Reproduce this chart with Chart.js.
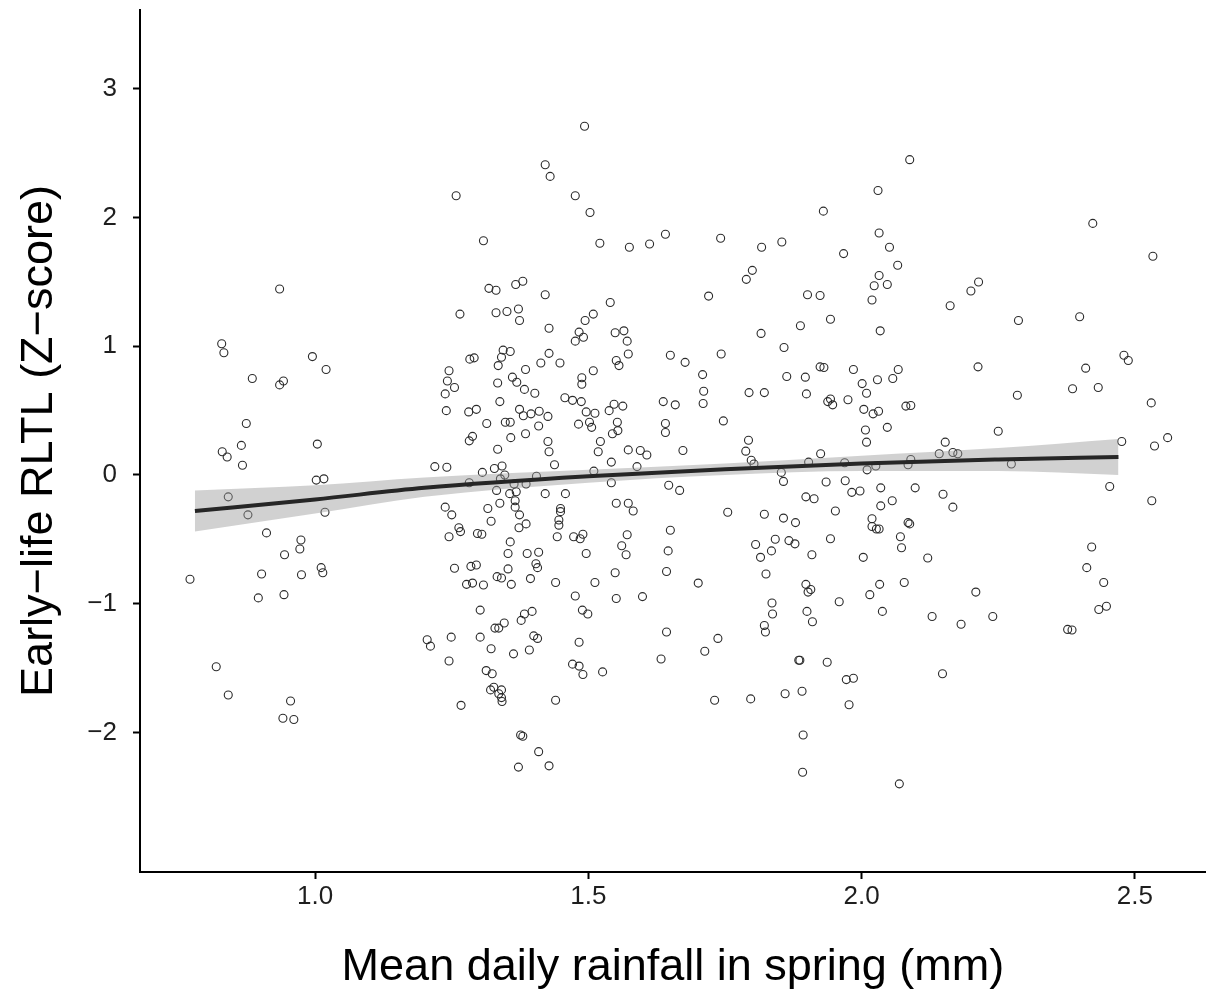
<!DOCTYPE html>
<html>
<head>
<meta charset="utf-8">
<script src="https://cdn.jsdelivr.net/npm/chart.js@4/dist/chart.umd.min.js"></script>
<style>
  body { margin: 0; background: #fff; }
  #wrap { width: 1211px; height: 995px; }
</style>
</head>
<body>
<div id="wrap"><canvas id="chart" width="1211" height="995"></canvas></div>
<script>
// observations: [mean daily rainfall (mm), early-life RLTL z-score]
var observations = [
  [0.771,-0.81],[0.819,-1.49],[0.829,1.02],[0.833,0.95],[0.830,0.18],[0.839,0.14],[0.841,-0.17],[0.841,-1.71],
  [0.865,0.23],[0.867,0.075],[0.874,0.40],[0.877,-0.31],[0.885,0.75],[0.902,-0.77],[0.896,-0.955],[0.911,-0.45],
  [0.935,1.445],[0.942,0.73],[0.935,0.70],[0.943,-0.93],[0.944,-0.62],[0.974,-0.505],[0.972,-0.575],[0.975,-0.775],
  [0.955,-1.756],[0.941,-1.89],[0.961,-1.90],[0.995,0.92],[1.020,0.82],[1.004,0.24],[1.002,-0.04],[1.016,-0.03],
  [1.018,-0.29],[1.011,-0.72],[1.014,-0.76],
  [1.493,2.71],[1.421,2.41],[1.430,2.32],[1.258,2.17],[1.476,2.17],[1.503,2.04],[1.308,1.82],[1.521,1.80],
  [1.318,1.45],[1.331,1.435],[1.367,1.48],[1.380,1.505],[1.421,1.40],[1.265,1.25],[1.331,1.26],[1.351,1.27],
  [1.372,1.29],[1.374,1.20],[1.428,1.14],[1.509,1.25],[1.494,1.20],[1.483,1.11],[1.491,1.07],[1.476,1.04],[1.540,1.34],
  [1.641,1.87],[1.612,1.795],[1.575,1.77],[1.742,1.84],[1.817,1.77],[1.854,1.81],[1.800,1.59],[1.789,1.52],
  [1.720,1.39],[1.549,1.105],[1.565,1.12],[1.571,1.04],[1.816,1.10],[1.888,1.16],
  [2.088,2.45],[2.030,2.21],[1.930,2.05],[2.032,1.88],[2.051,1.77],[1.967,1.72],[2.066,1.63],[2.032,1.55],
  [2.023,1.47],[2.047,1.48],[1.901,1.40],[1.924,1.395],[2.019,1.36],[1.943,1.21],[2.034,1.12],[2.162,1.315],
  [2.214,1.50],[2.200,1.43],[2.287,1.20],[2.399,1.23],[2.423,1.955],[2.533,1.70],
  [1.344,0.97],[1.357,0.96],[1.283,0.90],[1.291,0.91],[1.341,0.915],[1.335,0.85],[1.428,0.945],[1.413,0.87],
  [1.448,0.87],[1.385,0.82],[1.509,0.81],[1.245,0.81],[1.242,0.73],[1.255,0.68],[1.238,0.63],[1.334,0.715],
  [1.361,0.76],[1.369,0.72],[1.383,0.665],[1.402,0.635],[1.488,0.755],[1.488,0.705],[1.457,0.60],[1.471,0.58],
  [1.487,0.57],[1.338,0.57],[1.240,0.50],[1.281,0.49],[1.295,0.51],[1.374,0.51],[1.381,0.46],[1.395,0.475],
  [1.410,0.495],[1.426,0.455],[1.496,0.49],[1.512,0.48],[1.314,0.40],[1.348,0.41],[1.357,0.41],[1.409,0.38],
  [1.482,0.395],[1.502,0.41],[1.506,0.37],[1.282,0.265],[1.288,0.30],[1.358,0.29],[1.385,0.32],[1.426,0.26],
  [1.428,0.18],[1.522,0.26],[1.518,0.18],[1.334,0.20],[1.219,0.065],[1.241,0.06],[1.306,0.02],[1.328,0.05],
  [1.342,0.07],[1.347,0.00],[1.339,-0.03],[1.405,-0.01],[1.438,0.08],[1.510,0.03],[1.282,-0.06],[1.364,-0.07],
  [1.386,-0.07],[1.332,-0.12],[1.356,-0.145],[1.368,-0.13],[1.421,-0.145],[1.458,-0.145],[1.366,-0.20],[1.338,-0.22],
  [1.366,-0.25],[1.238,-0.25],[1.250,-0.31],[1.316,-0.26],[1.374,-0.31],[1.449,-0.26],[1.449,-0.285],[1.322,-0.36],
  [1.446,-0.35],[1.446,-0.39],[1.373,-0.41],[1.386,-0.38],[1.263,-0.41],[1.266,-0.44],[1.245,-0.48],[1.297,-0.455],
  [1.305,-0.46],[1.443,-0.48],[1.473,-0.48],[1.485,-0.495],[1.490,-0.46],[1.357,-0.52],[1.353,-0.61],[1.388,-0.61],
  [1.409,-0.60],[1.496,-0.61],[1.255,-0.725],[1.285,-0.71],[1.295,-0.70],[1.353,-0.73],[1.404,-0.69],[1.407,-0.72],
  [1.333,-0.79],[1.341,-0.80],[1.277,-0.85],[1.288,-0.84],[1.308,-0.855],[1.359,-0.85],[1.394,-0.805],[1.440,-0.835],
  [1.512,-0.835],[1.476,-0.94],[1.302,-1.05],[1.383,-1.08],[1.397,-1.06],[1.377,-1.13],[1.489,-1.05],[1.499,-1.08],
  [1.329,-1.19],[1.336,-1.19],[1.346,-1.15],[1.205,-1.28],[1.211,-1.33],[1.249,-1.26],[1.302,-1.26],[1.400,-1.25],
  [1.407,-1.27],[1.483,-1.30],[1.322,-1.35],[1.363,-1.39],[1.392,-1.36],[1.245,-1.445],[1.313,-1.52],[1.324,-1.545],
  [1.471,-1.47],[1.483,-1.485],[1.490,-1.55],[1.526,-1.53],[1.321,-1.67],[1.327,-1.65],[1.341,-1.67],[1.336,-1.70],
  [1.341,-1.73],[1.342,-1.76],[1.267,-1.79],[1.440,-1.75],[1.376,-2.02],[1.380,-2.03],[1.409,-2.15],[1.372,-2.27],[1.428,-2.26],
  [1.573,0.94],[1.551,0.89],[1.556,0.85],[1.650,0.93],[1.677,0.875],[1.743,0.94],[1.858,0.99],[1.863,0.765],
  [1.709,0.78],[1.711,0.65],[1.710,0.555],[1.794,0.64],[1.822,0.64],[1.637,0.57],[1.659,0.545],[1.547,0.55],
  [1.563,0.535],[1.538,0.50],[1.553,0.41],[1.554,0.345],[1.544,0.32],[1.641,0.40],[1.641,0.33],[1.747,0.42],
  [1.793,0.27],[1.788,0.185],[1.798,0.115],[1.803,0.085],[1.573,0.195],[1.595,0.19],[1.607,0.155],[1.673,0.19],
  [1.542,0.10],[1.589,0.065],[1.542,-0.06],[1.647,-0.08],[1.667,-0.12],[1.853,0.02],[1.857,-0.05],[1.551,-0.22],
  [1.573,-0.22],[1.582,-0.28],[1.755,-0.29],[1.822,-0.305],[1.857,-0.335],[1.879,-0.37],[1.571,-0.465],[1.650,-0.43],
  [1.561,-0.55],[1.569,-0.62],[1.646,-0.59],[1.806,-0.54],[1.842,-0.50],[1.867,-0.51],[1.878,-0.535],[1.835,-0.59],[1.815,-0.64],
  [1.549,-0.76],[1.643,-0.75],[1.701,-0.84],[1.825,-0.77],[1.551,-0.96],[1.599,-0.945],[1.836,-0.995],[1.837,-1.08],
  [1.822,-1.17],[1.824,-1.22],[1.643,-1.22],[1.737,-1.27],[1.713,-1.37],[1.633,-1.43],[1.885,-1.44],[1.731,-1.75],
  [1.797,-1.74],[1.860,-1.70],
  [2.480,0.93],[2.488,0.89],[1.924,0.84],[1.931,0.835],[1.985,0.82],[2.067,0.82],[2.057,0.75],[2.029,0.74],
  [2.001,0.71],[2.009,0.635],[1.897,0.76],[1.899,0.63],[1.938,0.57],[1.943,0.59],[1.947,0.545],[1.975,0.585],
  [2.004,0.51],[2.021,0.475],[2.031,0.495],[2.081,0.535],[2.090,0.54],[2.213,0.84],[2.285,0.62],[2.410,0.83],
  [2.386,0.67],[2.433,0.68],[2.530,0.56],[2.007,0.35],[2.047,0.37],[2.009,0.255],[2.250,0.34],[2.153,0.255],
  [2.142,0.165],[2.167,0.175],[2.176,0.165],[1.925,0.165],[2.476,0.26],[2.560,0.29],[2.536,0.225],[1.903,0.10],
  [1.969,0.095],[2.090,0.12],[2.085,0.08],[2.026,0.07],[2.010,0.04],[2.274,0.085],[1.935,-0.055],[1.970,-0.045],
  [1.982,-0.135],[1.997,-0.125],[2.035,-0.10],[2.098,-0.10],[2.149,-0.15],[2.454,-0.09],[1.898,-0.17],[1.913,-0.185],
  [2.056,-0.20],[2.035,-0.24],[2.167,-0.25],[2.531,-0.20],[1.952,-0.28],[2.019,-0.34],[2.019,-0.40],[2.027,-0.42],
  [2.032,-0.42],[2.085,-0.37],[2.088,-0.38],[1.943,-0.495],[2.071,-0.48],[2.073,-0.565],[1.909,-0.62],[2.003,-0.64],
  [2.121,-0.645],[2.421,-0.56],[2.412,-0.72],
  [1.898,-0.85],[1.907,-0.89],[1.902,-0.91],[2.033,-0.85],[2.078,-0.835],[2.015,-0.93],[1.959,-0.985],[2.209,-0.91],
  [2.443,-0.835],[1.900,-1.06],[1.910,-1.14],[2.038,-1.06],[2.129,-1.10],[2.182,-1.16],[2.240,-1.10],[2.434,-1.045],
  [2.448,-1.02],[2.377,-1.20],[2.385,-1.205],[1.887,-1.44],[1.937,-1.455],[1.972,-1.59],[1.985,-1.58],[2.148,-1.545],
  [1.891,-1.68],[1.977,-1.785],[1.893,-2.02],[1.892,-2.31],[2.069,-2.40]
];

// fitted curve and its confidence band
var fitX    = [0.78, 1.0, 1.2, 1.5, 1.75, 2.0, 2.25, 2.47];
var fitY    = [-0.28, -0.19, -0.10, -0.01, 0.045, 0.09, 0.12, 0.14];
var ciUpper = [-0.12, -0.08, -0.02, 0.04, 0.09, 0.15, 0.21, 0.28];
var ciLower = [-0.44, -0.30, -0.17, -0.06, 0.0, 0.03, 0.03, 0.0];

var xTicks = [1.0, 1.5, 2.0, 2.5];
var yTicks = [-2, -1, 0, 1, 2, 3];

function pairs(xs, ys) {
  return xs.map(function(x, i) { return { x: x, y: ys[i] }; });
}

var font = '"Liberation Sans", Arial, sans-serif';

new Chart(document.getElementById('chart'), {
  type: 'scatter',
  data: {
    datasets: [
      {
        type: 'line',
        data: pairs(fitX, fitY),
        borderColor: '#262626',
        borderWidth: 4,
        pointRadius: 0,
        cubicInterpolationMode: 'monotone',
        fill: false,
        order: 1
      },
      {
        type: 'line',
        data: pairs(fitX, ciUpper),
        borderWidth: 0,
        borderColor: 'rgba(0,0,0,0)',
        backgroundColor: 'rgba(153,153,153,0.45)',
        pointRadius: 0,
        cubicInterpolationMode: 'monotone',
        fill: '+1',
        order: 2
      },
      {
        type: 'line',
        data: pairs(fitX, ciLower),
        borderWidth: 0,
        borderColor: 'rgba(0,0,0,0)',
        pointRadius: 0,
        cubicInterpolationMode: 'monotone',
        fill: false,
        order: 3
      },
      {
        data: observations.map(function(p) { return { x: p[0], y: p[1] }; }),
        pointRadius: 4,
        pointBorderWidth: 1.1,
        borderColor: '#2b2b2b',
        backgroundColor: 'rgba(0,0,0,0)',
        order: 4
      }
    ]
  },
  options: {
    responsive: false,
    animation: false,
    layout: { padding: { top: 10, right: 0, left: 0, bottom: 0 } },
    plugins: { legend: { display: false }, tooltip: { enabled: false } },
    scales: {
      x: {
        type: 'linear',
        min: 0.6795,
        max: 2.630,
        afterBuildTicks: function(scale) {
          scale.ticks = xTicks.map(function(v) { return { value: v }; });
        },
        afterFit: function(scale) {
          scale.height = 123;
          scale.paddingLeft = 0;
          scale.paddingRight = 0;
        },
        border: { display: true, color: '#000', width: 2 },
        grid: { drawOnChartArea: false, drawTicks: true, tickLength: 7, tickColor: '#000', tickWidth: 2 },
        ticks: {
          color: '#1e1e1e',
          padding: 2,
          font: { family: font, size: 26 },
          callback: function(v) { return v.toFixed(1); }
        },
        title: {
          display: true,
          text: 'Mean daily rainfall in spring (mm)',
          color: '#000',
          font: { family: font, size: 45 },
          padding: { top: 3, bottom: 0 }
        }
      },
      y: {
        type: 'linear',
        min: -3.085,
        max: 3.613,
        afterBuildTicks: function(scale) {
          scale.ticks = yTicks.map(function(v) { return { value: v }; });
        },
        afterFit: function(scale) {
          scale.width = 140;
          scale.paddingTop = 0;
          scale.paddingBottom = 0;
        },
        border: { display: true, color: '#000', width: 2 },
        grid: { drawOnChartArea: false, drawTicks: true, tickLength: 7, tickColor: '#000', tickWidth: 2 },
        ticks: {
          color: '#1e1e1e',
          padding: 16,
          font: { family: font, size: 26 },
          callback: function(v) { return v < 0 ? '\u2212' + Math.abs(v) : String(v); }
        },
        title: {
          display: true,
          text: 'Early\u2212life RLTL (Z\u2212score)',
          color: '#000',
          font: { family: font, size: 45 },
          padding: { top: 13, bottom: 0 }
        }
      }
    }
  }
});
</script>
</body>
</html>
